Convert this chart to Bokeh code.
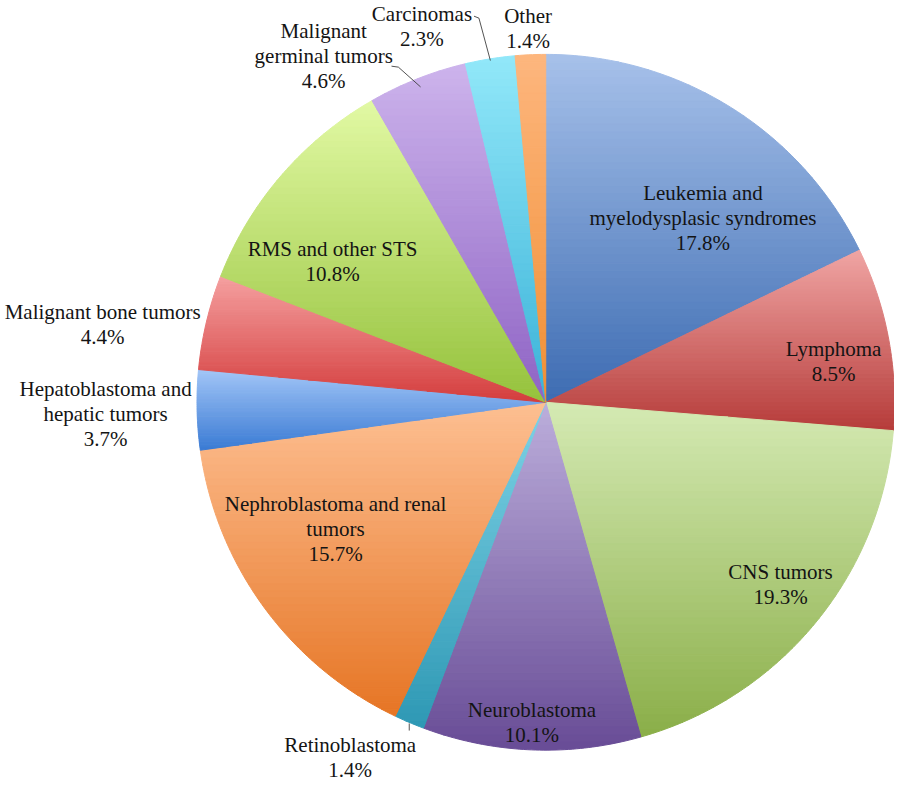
import math
from bokeh.plotting import figure
from bokeh.models import Range1d, ColumnDataSource, Label
from bokeh.embed import file_html
from bokeh.resources import INLINE

# ---------------- data ----------------
CATEGORIES = [
    "Leukemia and myelodysplasic syndromes",
    "Lymphoma",
    "CNS tumors",
    "Neuroblastoma",
    "Retinoblastoma",
    "Nephroblastoma and renal tumors",
    "Hepatoblastoma and hepatic tumors",
    "Malignant bone tumors",
    "RMS and other STS",
    "Malignant germinal tumors",
    "Carcinomas",
    "Other",
]
VALUES = [17.8, 8.5, 19.3, 10.1, 1.4, 15.7, 3.7, 4.4, 10.8, 4.6, 2.3, 1.4]
# label wrapping (number of words on first line; 0 = no wrap)
WRAP_WORDS = [2, 0, 0, 0, 0, 3, 2, 0, 0, 1, 0, 0]

# ---------------- style / layout ----------------
GRAD_TOP = ["#a7c1ea", "#f0a5a4", "#d5eab4", "#bcaedb", "#7fd3e6", "#fdbf92",
            "#a3c6f7", "#f5a0a0", "#e2f9a4", "#cdb4ec", "#92e8f9", "#fdb67e"]
GRAD_BOT = ["#3d6cb2", "#b63c3a", "#8aae48", "#684c96", "#2e98b4", "#e67524",
            "#3b7bd4", "#d43e3e", "#95c23c", "#8e63c4", "#3ab2d8", "#f18f33"]
LABEL_XY = [(715, 196), (848, 356), (794, 583), (541, 724), (356, 760), (341, 514),
            (107, 396), (104, 318), (338, 254), (329, 31), (429, 14), (537, 16)]
CX, CY, R = 555.0, 410.0, 355.0
LINE_STEP = 25.5
FONT = "Liberation Serif"
FONT_SIZE = "21px"
TEXT_COLOR = "#141414"
NBANDS = 45


def hex2rgb(h):
    h = h.lstrip("#")
    return tuple(int(h[i:i + 2], 16) for i in (0, 2, 4))


def mix(c1, c2, t):
    a, b = hex2rgb(c1), hex2rgb(c2)
    return "#%02x%02x%02x" % tuple(int(round(a[i] + (b[i] - a[i]) * t)) for i in range(3))


def pt(angle_deg, r):
    a = math.radians(angle_deg)
    return CX + r * math.sin(a), CY - r * math.cos(a)


def clip(poly, y0, keep_above):
    out = []
    n = len(poly)
    for i in range(n):
        p, q = poly[i], poly[(i + 1) % n]
        pin = (p[1] <= y0) if keep_above else (p[1] >= y0)
        qin = (q[1] <= y0) if keep_above else (q[1] >= y0)
        if pin:
            out.append(p)
        if pin != qin:
            t = (y0 - p[1]) / (q[1] - p[1])
            out.append((round(p[0] + t * (q[0] - p[0]), 2), y0))
    return out


total = sum(VALUES)
xs, ys, cols = [], [], []
start = 0.0
mids = []
for i, v in enumerate(VALUES):
    a0 = start / total * 360.0
    a1 = (start + v) / total * 360.0
    start += v
    mids.append((a0 + a1) / 2)
    nseg = max(3, int((a1 - a0) * 1.5))
    poly = [(CX, CY)] + [tuple(round(c, 2) for c in pt(a0 + (a1 - a0) * k / nseg, R))
                         for k in range(nseg + 1)]
    ymin = min(p[1] for p in poly)
    ymax = max(p[1] for p in poly)
    h = (ymax - ymin) / NBANDS
    for b in range(NBANDS):
        yt = round(ymin + b * h, 2)
        yb = round(ymin + (b + 1) * h, 2)
        band = clip(clip(poly, yt, False), yb, True)
        if len(band) < 3:
            continue
        xs.append([q[0] for q in band])
        ys.append([q[1] for q in band])
        cols.append(mix(GRAD_TOP[i], GRAD_BOT[i], (b + 0.5) / NBANDS))

p = figure(width=894, height=782, x_range=Range1d(0, 910), y_range=Range1d(798, 0),
           x_axis_location=None, y_axis_location=None, min_border=0,
           toolbar_location=None, output_backend="svg")
p.grid.visible = False
p.outline_line_color = None

p.patches(xs="xs", ys="ys", fill_color="cols", line_color="cols", line_width=1,
          source=ColumnDataSource(dict(xs=xs, ys=ys, cols=cols)))

# leader lines for outside labels
lead_x, lead_y = [], []
ex, ey = pt(mids[9], R * 0.975)
lead_x.append([398, 405, ex]); lead_y.append([67, 68, ey])
ex, ey = pt(mids[10], R * 0.995)
lead_x.append([482, 487, ex]); lead_y.append([16, 18, ey])
ex, ey = pt(mids[4], R * 1.0)
lead_x.append([ex, ex]); lead_y.append([ey + 1, 745])
p.multi_line(xs=lead_x, ys=lead_y, line_color="#404040", line_width=0.9)

# labels (one Label annotation per text line)
for i, cat in enumerate(CATEGORIES):
    words = cat.split(" ")
    if WRAP_WORDS[i]:
        lines = [" ".join(words[:WRAP_WORDS[i]]), " ".join(words[WRAP_WORDS[i]:])]
    else:
        lines = [cat]
    lines.append(f"{VALUES[i]:.1f}%")
    lx, ly = LABEL_XY[i]
    for k, ln in enumerate(lines):
        p.add_layout(Label(x=lx, y=ly + k * LINE_STEP, text=ln, text_font=FONT,
                           text_font_size=FONT_SIZE, text_align="center",
                           text_baseline="middle", text_color=TEXT_COLOR))

open("out.html", "w").write(file_html(p, INLINE))
